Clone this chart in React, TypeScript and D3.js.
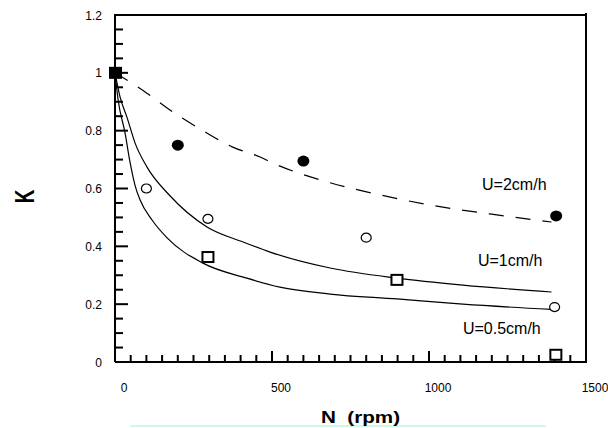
import * as d3 from 'd3';

// measured points
const u2Points: [number, number][] = [
  [200, 0.75],
  [600, 0.695],
  [1405, 0.505],
];
const u1Points: [number, number][] = [
  [100, 0.6],
  [296, 0.495],
  [800, 0.43],
  [1400, 0.19],
];
const u05Points: [number, number][] = [
  [296, 0.363],
  [898, 0.284],
  [1404, 0.025],
];
const startPoint: [number, number][] = [[0, 1]];

// fitted curves
const u2Curve: [number, number][] = [
  [0, 1.0], [96, 0.934], [185, 0.864], [277, 0.802], [373, 0.744], [462, 0.709],
  [503, 0.688], [685, 0.62], [844, 0.578], [1003, 0.543], [1194, 0.512], [1390, 0.484],
];
const u1Curve: [number, number][] = [
  [0, 1.0], [16, 0.917], [38, 0.847], [64, 0.757], [102, 0.674], [175, 0.575],
  [293, 0.467], [408, 0.415], [494, 0.38], [685, 0.325], [898, 0.29], [1108, 0.266], [1390, 0.242],
];
const u05Curve: [number, number][] = [
  [0, 1.0], [10, 0.906], [32, 0.792], [48, 0.69], [64, 0.61], [80, 0.56], [118, 0.491],
  [166, 0.429], [280, 0.342], [420, 0.29], [525, 0.259], [685, 0.235], [898, 0.218],
  [1108, 0.2], [1390, 0.182],
];

const curveLabels = [
  { text: 'U=2cm/h', at: [1169, 0.595] },
  { text: 'U=1cm/h', at: [1156, 0.332] },
  { text: 'U=0.5cm/h', at: [1108, 0.097] },
];

const xMajor = [0, 500, 1000, 1500];
const yMajor = [0, 0.2, 0.4, 0.6, 0.8, 1, 1.2];

const W = 608;
const H = 428;
const m = { left: 115, right: 586, top: 15, bottom: 362 };
const font = 'Liberation Sans, Arial, sans-serif';

export default function App() {
  const x = d3.scaleLinear().domain([0, 1500]).range([m.left, m.right]);
  const y = d3.scaleLinear().domain([0, 1.2]).range([m.bottom, m.top]);
  const line = d3
    .line<[number, number]>()
    .x(d => x(d[0]))
    .y(d => y(d[1]))
    .curve(d3.curveMonotoneX);

  const xMinor = d3.range(0, 1501, 50);
  const yMinor = d3.range(0, 1.2001, 0.05);

  return (
    <svg width={W} height={H} style={{ position: 'absolute', left: 0, top: 0 }} fontFamily={font}>
      <rect width={W} height={H} fill="#fff" />

      {/* frame */}
      <path
        d={`M${m.left},${m.bottom}H${m.right}V${m.top - 2}M${m.left},${m.bottom}V${m.top}H${m.right + 1}`}
        fill="none"
        stroke="#000"
        strokeWidth={2}
      />

      {/* ticks */}
      {xMinor.map(v => {
        const major = v % 500 === 0;
        return (
          <line key={'xt' + v} x1={x(v)} x2={x(v)} y1={m.bottom} y2={m.bottom - (major ? 11 : 7)} stroke="#000" strokeWidth={2} />
        );
      })}
      {yMinor.map((v, i) => {
        const major = i % 4 === 0;
        return (
          <line key={'yt' + i} x1={m.left} x2={m.left + (major ? 13 : 8)} y1={y(v)} y2={y(v)} stroke="#000" strokeWidth={2} />
        );
      })}

      {/* tick labels */}
      {xMajor.map(v => (
        <text key={'xl' + v} x={x(v) + 9} y={392} fontSize={12} textAnchor="middle">
          {v}
        </text>
      ))}
      {yMajor.map(v => (
        <text key={'yl' + v} x={102} y={y(v) + 4.5} fontSize={12} textAnchor="end">
          {v}
        </text>
      ))}

      {/* curves */}
      <path d={line(u2Curve) ?? ''} fill="none" stroke="#000" strokeWidth={1.2} strokeDasharray="15,12" />
      <path d={line(u1Curve) ?? ''} fill="none" stroke="#000" strokeWidth={1.2} />
      <path d={line(u05Curve) ?? ''} fill="none" stroke="#000" strokeWidth={1.2} />

      {/* markers */}
      {u2Points.map((d, i) => (
        <ellipse key={'a' + i} cx={x(d[0])} cy={y(d[1])} rx={6} ry={5.5} fill="#000" />
      ))}
      {u1Points.map((d, i) => (
        <ellipse key={'b' + i} cx={x(d[0])} cy={y(d[1])} rx={5} ry={4.5} fill="#fff" stroke="#000" strokeWidth={1.2} />
      ))}
      {u05Points.map((d, i) => (
        <rect key={'c' + i} x={x(d[0]) - 5.5} y={y(d[1]) - 5} width={11} height={10} fill="#fff" stroke="#000" strokeWidth={2} />
      ))}
      {startPoint.map((d, i) => (
        <rect key={'s' + i} x={x(d[0]) - 6} y={y(d[1]) - 6} width={13} height={12} fill="#000" />
      ))}

      {/* curve labels */}
      {curveLabels.map(l => (
        <text key={l.text} x={x(l.at[0])} y={y(l.at[1])} fontSize={16}>
          {l.text}
        </text>
      ))}

      {/* axis titles */}
      <text x={0} y={0} transform="translate(34,196.5) rotate(-90) scale(1,1.47)" fontSize={19} fontWeight="bold" textAnchor="middle">
        K
      </text>
      <line x1={130} x2={546} y1={426} y2={426} stroke="#ccfbe4" strokeWidth={2} />
      <text
        x={0}
        y={0}
        transform="translate(360.5,423) scale(1.29,1)"
        fontSize={16}
        fontWeight="bold"
        textAnchor="middle"
        style={{ whiteSpace: 'pre' }}
      >
        {'N  (rpm)'}
      </text>
    </svg>
  );
}
